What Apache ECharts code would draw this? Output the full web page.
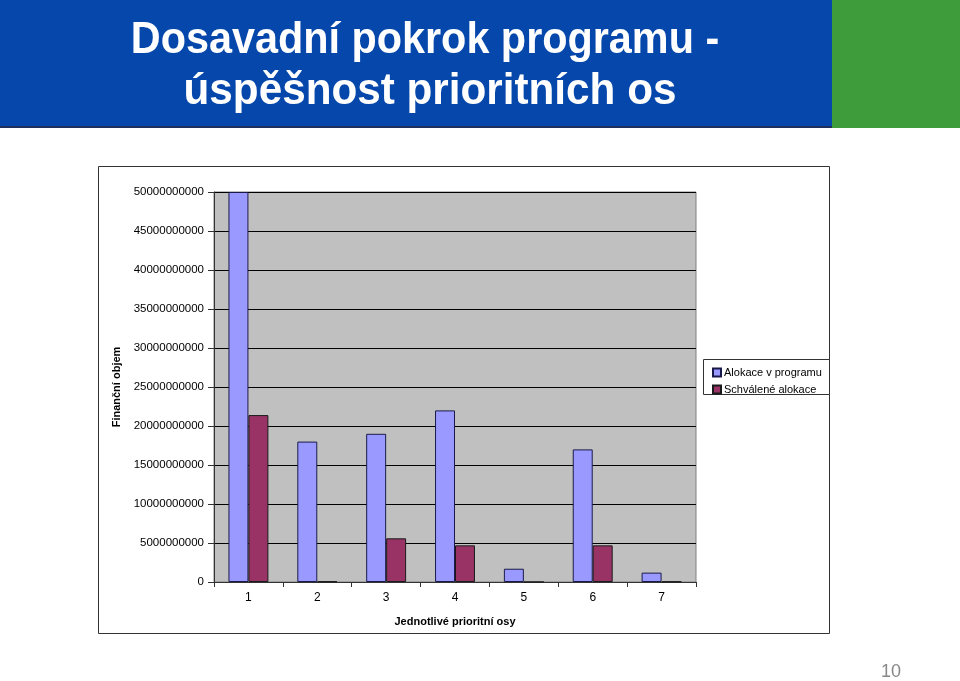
<!DOCTYPE html>
<html><head><meta charset="utf-8">
<script src="https://cdn.jsdelivr.net/npm/echarts@6/dist/echarts.min.js"></script>
<style>html,body{margin:0;padding:0;background:#fff}#c{width:960px;height:681px}</style>
</head><body><div id="c"></div>
<script>
const categories = ['1','2','3','4','5','6','7'];
const alokace = [50000000000, 18000000000, 19000000000, 22000000000, 1700000000, 17000000000, 1200000000];
const schvalene = [21400000000, 80000000, 5600000000, 4700000000, 0, 4700000000, 60000000];
const seriesNames = ['Alokace v programu', 'Schválené alokace'];
const titleLines = ['Dosavadní pokrok programu -', 'úspěšnost prioritních os'];

const chart = echarts.init(document.getElementById('c'));
chart.setOption({
  animation: false,
  backgroundColor: '#ffffff',
  textStyle: { fontFamily: 'Liberation Sans, Arial, sans-serif' },
  graphic: [
    { type: 'rect', shape: { x: 0, y: 0, width: 832, height: 128 }, style: { fill: '#0547ab' }, z: -10 },
    { type: 'rect', shape: { x: 0, y: 126, width: 832, height: 2 }, style: { fill: '#1c2f5e' }, z: -9 },
    { type: 'rect', shape: { x: 832, y: 0, width: 128, height: 128 }, style: { fill: '#3f9c3a' }, z: -10 },
    { type: 'text', x: 425, y: 41, scaleX: 0.94, style: { text: titleLines[0], fill: '#ffffff', font: 'bold 44px "Liberation Sans", Arial, sans-serif', textAlign: 'center', textVerticalAlign: 'middle' } },
    { type: 'text', x: 430, y: 92, scaleX: 0.96, style: { text: titleLines[1], fill: '#ffffff', font: 'bold 44px "Liberation Sans", Arial, sans-serif', textAlign: 'center', textVerticalAlign: 'middle' } },
    { type: 'rect', shape: { x: 98.5, y: 166.5, width: 731, height: 467 }, style: { fill: 'none', stroke: '#333333', lineWidth: 1 }, z: -5 },
    { type: 'rect', shape: { x: 703.5, y: 359.5, width: 126, height: 35 }, style: { fill: '#ffffff', stroke: '#333333', lineWidth: 1 }, z: 5 },
    { type: 'text', x: 891, y: 672, style: { text: '10', fill: '#888888', font: '18px "Liberation Sans", Arial, sans-serif', textAlign: 'center', textVerticalAlign: 'middle' } }
  ],
  legend: {
    orient: 'vertical',
    left: 707, top: 362,
    itemWidth: 8, itemHeight: 8, itemGap: 6,
    icon: 'rect',
    textStyle: { fontSize: 11, color: '#000', padding: [0, 0, 0, -2] },
    data: seriesNames,
    z: 10
  },
  grid: {
    left: 214, right: 264, top: 192, bottom: 99,
    show: true, backgroundColor: '#c0c0c0', borderColor: '#808080', borderWidth: 1
  },
  xAxis: {
    type: 'category', data: categories,
    name: 'Jednotlivé prioritní osy', nameLocation: 'middle', nameGap: 34,
    nameTextStyle: { fontSize: 11, fontWeight: 'bold', color: '#000' },
    axisLine: { lineStyle: { color: '#333', width: 1 } },
    axisTick: { show: true, length: 5, lineStyle: { color: '#333' } },
    axisLabel: { fontSize: 12, color: '#000', margin: 10 }
  },
  yAxis: {
    type: 'value', min: 0, max: 50000000000, interval: 5000000000,
    name: 'Finanční objem', nameLocation: 'middle', nameGap: 91,
    nameTextStyle: { fontSize: 11, fontWeight: 'bold', color: '#000' },
    axisLine: { show: true, lineStyle: { color: '#333', width: 1 } },
    axisTick: { show: true, length: 6, lineStyle: { color: '#333' } },
    axisLabel: { fontSize: 11.5, color: '#000', margin: 10, formatter: v => String(v) },
    splitLine: { lineStyle: { color: '#000', width: 1 } }
  },
  series: [
    { name: seriesNames[0], type: 'bar', data: alokace, barGap: '0%', barCategoryGap: '42%',
      itemStyle: { color: '#9999ff', borderColor: '#1a1a4a', borderWidth: 1 } },
    { name: seriesNames[1], type: 'bar', data: schvalene,
      itemStyle: { color: '#993366', borderColor: '#1a1a1a', borderWidth: 1 } }
  ]
});
</script></body></html>
